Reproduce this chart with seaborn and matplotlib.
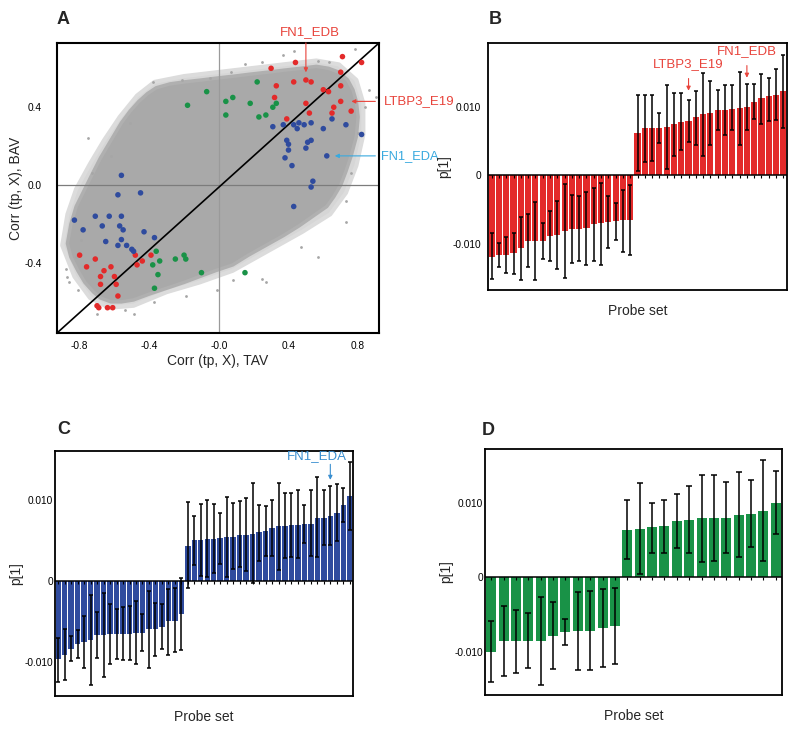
import numpy as np
import pandas as pd
import matplotlib
matplotlib.use("Agg")
import matplotlib.pyplot as plt
import seaborn as sns

# ---- panel A: grey cloud outline, its sparse halo, stray dots
cloud_x = [-0.87, -0.85, -0.82, -0.77, -0.72, -0.68, -0.64, -0.60, -0.56, -0.51, -0.46, -0.41,
           -0.36, -0.28, -0.20, -0.10, -0.01, 0.09, 0.18, 0.28, 0.37, 0.47, 0.56, 0.63, 0.69,
           0.74, 0.77, 0.79, 0.80, 0.79, 0.76, 0.73, 0.70, 0.66, 0.62, 0.54, 0.46, 0.37, 0.27,
           0.17, 0.08, -0.02, -0.11, -0.20, -0.30, -0.40, -0.49, -0.56, -0.62, -0.68, -0.72,
           -0.77, -0.81, -0.85]
cloud_y = [-0.30, -0.20, -0.11, -0.02, 0.07, 0.14, 0.20, 0.26, 0.32, 0.38, 0.43, 0.47,
           0.50, 0.52, 0.53, 0.54, 0.55, 0.56, 0.57, 0.58, 0.59, 0.60, 0.61, 0.60, 0.58,
           0.54, 0.49, 0.43, 0.35, 0.25, 0.15, 0.07, 0.00, -0.06, -0.11, -0.16, -0.21, -0.26, -0.31,
           -0.36, -0.41, -0.44, -0.47, -0.50, -0.53, -0.56, -0.59, -0.60, -0.60, -0.58, -0.55,
           -0.50, -0.44, -0.37]
halo_x = [-0.90, -0.87, -0.82, -0.74, -0.66, -0.57, -0.47, -0.37, -0.20, -0.01, 0.18, 0.37,
          0.56, 0.69, 0.79, 0.83, 0.83, 0.79, 0.73, 0.64, 0.48, 0.28, 0.08, -0.11, -0.30,
          -0.49, -0.63, -0.74, -0.83]
halo_y = [-0.31, -0.15, -0.02, 0.11, 0.23, 0.35, 0.46, 0.53, 0.56, 0.58, 0.60, 0.62,
          0.64, 0.62, 0.54, 0.42, 0.26, 0.10, -0.04, -0.15, -0.24, -0.34, -0.44, -0.50, -0.55,
          -0.62, -0.63, -0.58, -0.47]
stray_x = [-0.88, -0.86, -0.75, -0.38, -0.21, -0.05, 0.07, 0.25, 0.37, 0.43, 0.63, 0.78, 0.86,
           0.84, 0.80, 0.76, 0.73, 0.57, 0.47, 0.27, 0.08, -0.01, -0.19, -0.37, -0.49, -0.54,
           -0.70, -0.81, -0.87, -0.82, -0.79, -0.73, -0.62, -0.51, 0.73, 0.25, 0.57, 0.90, 0.15]
stray_y = [-0.43, -0.50, 0.24, 0.53, 0.54, 0.55, 0.58, 0.63, 0.67, 0.69, 0.63, 0.70, 0.49,
           0.40, 0.27, 0.06, -0.08, -0.37, -0.32, -0.50, -0.49, -0.54, -0.57, -0.60, -0.66, -0.64,
           -0.66, -0.54, -0.47, -0.37, -0.28, 0.06, 0.15, 0.32, -0.19, -0.48, 0.64, 0.45, 0.62]

red_x = [0.71, 0.82, 0.44, 0.30, 0.70, 0.43, 0.50, 0.53, 0.33, 0.70, 0.60, 0.63, 0.32, 0.70,
         0.50, 0.66, 0.52, 0.65, 0.76, 0.39,
         -0.80, -0.71, -0.76, -0.48, -0.44, -0.39, -0.47, -0.62, -0.66, -0.68, -0.60, -0.68,
         -0.59, -0.58, -0.70, -0.69, -0.64, -0.61]
red_y = [0.66, 0.63, 0.63, 0.60, 0.58, 0.53, 0.54, 0.53, 0.51, 0.51, 0.49, 0.48, 0.45, 0.43,
         0.42, 0.40, 0.37, 0.37, 0.38, 0.34,
         -0.36, -0.38, -0.42, -0.36, -0.39, -0.36, -0.41, -0.42, -0.44, -0.47, -0.47, -0.51,
         -0.51, -0.57, -0.62, -0.63, -0.63, -0.63]
blue_x = [0.82, 0.73, 0.65, 0.60, 0.53, 0.49, 0.46, 0.43, 0.45, 0.37, 0.31, 0.53, 0.51, 0.50,
          0.39, 0.40, 0.40, 0.38, 0.42, 0.62, 0.54, 0.53, 0.43,
          -0.56, -0.58, -0.45, -0.83, -0.71, -0.63, -0.56, -0.78, -0.67, -0.57, -0.55, -0.43,
          -0.37, -0.65, -0.56, -0.58, -0.53, -0.50, -0.49]
blue_y = [0.26, 0.31, 0.34, 0.29, 0.32, 0.31, 0.32, 0.31, 0.29, 0.31, 0.30, 0.23, 0.22, 0.19,
          0.23, 0.21, 0.18, 0.14, 0.10, 0.15, 0.02, -0.01, -0.11,
          0.05, -0.05, -0.04, -0.18, -0.16, -0.16, -0.16, -0.23, -0.21, -0.21, -0.23, -0.24,
          -0.27, -0.29, -0.28, -0.31, -0.31, -0.33, -0.34]
green_x = [0.22, -0.07, 0.04, 0.08, 0.18, 0.33, 0.31, -0.18, 0.04, 0.23, 0.27,
           -0.36, -0.38, -0.34, -0.25, -0.20, -0.19, -0.35, -0.10, 0.15, -0.37]
green_y = [0.53, 0.48, 0.43, 0.45, 0.42, 0.42, 0.40, 0.41, 0.36, 0.35, 0.36,
           -0.34, -0.41, -0.39, -0.38, -0.36, -0.38, -0.46, -0.45, -0.45, -0.53]

# ---- panel B (red) bar values and interval ends
b_val = [-0.0119, -0.0117, -0.0117, -0.0114, -0.0106, -0.0096, -0.0096, -0.0096, -0.0089, -0.0087,
         -0.0082, -0.0078, -0.0078, -0.0077, -0.0072, -0.0070, -0.0068, -0.0067, -0.0066, -0.0065,
         0.0062, 0.0069, 0.0070, 0.0070, 0.0071, 0.0075, 0.0078, 0.0080, 0.0085, 0.0090,
         0.0092, 0.0096, 0.0096, 0.0098, 0.0099, 0.0100, 0.0108, 0.0113, 0.0117, 0.0118, 0.0124]
b_hi = [-0.0085, -0.0099, -0.0090, -0.0085, -0.0061, -0.0057, -0.0039, -0.0070, -0.0052, -0.0038,
        -0.0012, -0.0029, -0.0030, -0.0025, -0.0018, -0.0011, -0.0030, -0.0041, -0.0021, -0.0014,
        0.0118, 0.0118, 0.0118, 0.0092, 0.0133, 0.0121, 0.0120, 0.0110, 0.0124, 0.0150,
        0.0138, 0.0125, 0.0132, 0.0133, 0.0152, 0.0134, 0.0134, 0.0149, 0.0142, 0.0156, 0.0176]
b_lo = [-0.0152, -0.0135, -0.0143, -0.0145, -0.0153, -0.0135, -0.0153, -0.0123, -0.0125, -0.0137,
        -0.0151, -0.0128, -0.0126, -0.0131, -0.0125, -0.0132, -0.0106, -0.0094, -0.0112, -0.0117,
        0.0007, 0.0020, 0.0021, 0.0047, 0.0010, 0.0029, 0.0037, 0.0049, 0.0044, 0.0029,
        0.0044, 0.0066, 0.0059, 0.0066, 0.0044, 0.0066, 0.0082, 0.0076, 0.0080, 0.0081, 0.0070]

# ---- panel C (blue)
c_val = [-0.0097, -0.0091, -0.0084, -0.0078, -0.0075, -0.0073, -0.0067, -0.0067, -0.0066, -0.0066,
         -0.0065, -0.0065, -0.0064, -0.0064, -0.0060, -0.0060, -0.0057, -0.0050, -0.0049, -0.0041,
         0.0043, 0.0050, 0.0050, 0.0051, 0.0052, 0.0053, 0.0054, 0.0054, 0.0057, 0.0057,
         0.0058, 0.0060, 0.0062, 0.0065, 0.0067, 0.0067, 0.0069, 0.0069, 0.0070, 0.0070,
         0.0078, 0.0078, 0.0080, 0.0084, 0.0094, 0.0105]
c_hi = [-0.0071, -0.0060, -0.0068, -0.0061, -0.0043, -0.0017, -0.0039, -0.0015, -0.0028, -0.0035,
        -0.0032, -0.0031, -0.0025, -0.0041, -0.0013, -0.0027, -0.0029, -0.0010, -0.0009, 0.0003,
        0.0097, 0.0080, 0.0095, 0.0099, 0.0095, 0.0083, 0.0103, 0.0096, 0.0098, 0.0102,
        0.0120, 0.0094, 0.0092, 0.0100, 0.0121, 0.0108, 0.0108, 0.0112, 0.0094, 0.0112,
        0.0128, 0.0112, 0.0117, 0.0119, 0.0114, 0.0146]
c_lo = [-0.0125, -0.0122, -0.0099, -0.0095, -0.0108, -0.0129, -0.0095, -0.0118, -0.0103, -0.0097,
        -0.0098, -0.0098, -0.0103, -0.0086, -0.0108, -0.0093, -0.0084, -0.0091, -0.0088, -0.0085,
        -0.0009, 0.0020, 0.0006, 0.0005, 0.0010, 0.0021, 0.0005, 0.0014, 0.0017, 0.0012,
        -0.0003, 0.0025, 0.0031, 0.0031, 0.0013, 0.0028, 0.0029, 0.0028, 0.0047, 0.0030,
        0.0029, 0.0044, 0.0044, 0.0049, 0.0073, 0.0063]

# ---- panel D (green)
d_val = [-0.0100, -0.0086, -0.0086, -0.0085, -0.0085, -0.0079, -0.0074, -0.0072, -0.0072, -0.0068,
         -0.0065, 0.0064, 0.0065, 0.0067, 0.0069, 0.0075, 0.0077, 0.0079, 0.0079, 0.0080,
         0.0083, 0.0085, 0.0089, 0.0099]
d_hi = [-0.0059, -0.0039, -0.0044, -0.0048, -0.0026, -0.0033, -0.0056, -0.0020, -0.0019, -0.0016,
        -0.0014, 0.0104, 0.0127, 0.0100, 0.0104, 0.0111, 0.0122, 0.0137, 0.0137, 0.0128,
        0.0141, 0.0130, 0.0157, 0.0142]
d_lo = [-0.0141, -0.0133, -0.0128, -0.0122, -0.0144, -0.0123, -0.0091, -0.0124, -0.0124, -0.0120,
        -0.0116, 0.0025, 0.0004, 0.0033, 0.0033, 0.0039, 0.0032, 0.0021, 0.0022, 0.0033,
        0.0027, 0.0041, 0.0022, 0.0058]

RED = "#e32a2a"
BLUE = "#2f4b9e"
GREEN = "#199247"
TXT_RED = "#e8433b"
TXT_BLUE = "#3a8fd0"
TXT_CYAN = "#38a9df"

sns.set_theme(style="white")
plt.rcParams["font.family"] = ["Liberation Sans", "DejaVu Sans"]

fig = plt.figure(figsize=(7.94, 7.31), dpi=100)
W, H = 794, 731


def px_axes(l, t, r, b):
    return fig.add_axes([l / W, 1 - b / H, (r - l) / W, (b - t) / H])


def frame(ax, lw=1.3):
    for s in ax.spines.values():
        s.set_visible(True)
        s.set_color("black")
        s.set_linewidth(lw)
    ax.tick_params(length=0, labelsize=7.3, colors="black", pad=3)


# ================= panel A =================
axA = px_axes(57, 43, 379, 333)
frame(axA, 1.5)
axA.fill(halo_x, halo_y, color="#d6d6d6", ec="#dcdcdc", lw=3, joinstyle="round", zorder=1)
axA.fill(cloud_x, cloud_y, color="#a9a9a9", ec="#b0b0b0", lw=2.5, joinstyle="round", zorder=1)
sns.scatterplot(x=stray_x, y=stray_y, color="#a6a6a6", s=4, linewidth=0, ax=axA, zorder=1)
axA.axvline(0, color="#9a9a9a", lw=0.9, zorder=2)
axA.axhline(0, color="#7c7c7c", lw=0.9, zorder=2)
axA.plot([0, 1], [0, 1], transform=axA.transAxes, color="black", lw=1.2, zorder=3)
pts = pd.DataFrame({
    "x": red_x + blue_x + green_x,
    "y": red_y + blue_y + green_y,
    "grp": ["red"] * len(red_x) + ["blue"] * len(blue_x) + ["green"] * len(green_x),
})
sns.scatterplot(data=pts, x="x", y="y", hue="grp",
                palette={"red": RED, "blue": BLUE, "green": GREEN},
                s=16, linewidth=0, legend=False, ax=axA, zorder=4)
axA.set_xlim(-0.93, 0.92)
axA.set_ylim(-0.76, 0.73)
axA.set_xticks([-0.8, -0.4, 0.0, 0.4, 0.8])
axA.set_xticklabels(["-0.8", "-0.4", "-0.0", "0.4", "0.8"])
axA.set_yticks([-0.4, 0.0, 0.4])
axA.set_yticklabels(["-0.4", "0.0", "0.4"])
axA.tick_params(axis="x", pad=6)
axA.tick_params(axis="y", pad=11)
axA.set_xlabel("Corr (tp, X), TAV", fontsize=10, labelpad=2)
axA.set_ylabel("Corr (tp, X), BAV", fontsize=10, labelpad=1)

axA.text(0.52, 0.785, "FN1_EDB", color=TXT_RED, fontsize=9.5, ha="center", va="center")
axA.annotate("", xy=(0.50, 0.565), xytext=(0.50, 0.745),
             arrowprops=dict(arrowstyle="-|>", color=TXT_RED, lw=0.8, mutation_scale=6),
             annotation_clip=False)
axA.text(0.95, 0.43, "LTBP3_E19", color=TXT_RED, fontsize=9.5, ha="left", va="center")
axA.annotate("", xy=(0.745, 0.43), xytext=(0.915, 0.43),
             arrowprops=dict(arrowstyle="-|>", color=TXT_RED, lw=0.8, mutation_scale=6),
             annotation_clip=False)
axA.text(0.93, 0.15, "FN1_EDA", color=TXT_CYAN, fontsize=9.3, ha="left", va="center")
axA.annotate("", xy=(0.65, 0.15), xytext=(0.915, 0.15),
             arrowprops=dict(arrowstyle="-|>", color=TXT_CYAN, lw=0.8, mutation_scale=6),
             annotation_clip=False)


# ================= bar panels =================
def bar_panel(ax, vals, lo, hi, color, ylim, width, cap, pad):
    n = len(vals)
    idx = np.arange(n)
    df = pd.DataFrame({"i": idx, "v": vals})
    sns.barplot(data=df, x="i", y="v", color=color, saturation=1, width=width,
                edgecolor="none", ax=ax, zorder=2)
    v = np.array(vals)
    yerr = [v - np.array(lo), np.array(hi) - v]
    ax.errorbar(idx, v, yerr=yerr, fmt="none", ecolor="black", elinewidth=1.1,
                capsize=cap, capthick=1.1, zorder=3)
    ax.axhline(0, color="black", lw=1.1, zorder=4)
    ax.plot(idx, np.zeros(n), ls="none", marker=3, ms=2.2, mew=0.8, color="black", zorder=4)
    ax.set_xlim(-0.5, n - 0.5)
    ax.set_ylim(*ylim)
    ax.set_xticks([])
    ax.set_yticks([-0.010, 0, 0.010])
    ax.set_yticklabels(["-0.010", "0", "0.010"])
    ax.set_xlabel("Probe set", fontsize=10, labelpad=10)
    ax.set_ylabel("p[1]", fontsize=10, labelpad=1)
    frame(ax, 1.3)
    ax.tick_params(axis="y", pad=pad)


axB = px_axes(488, 43, 787, 290)
bar_panel(axB, b_val, b_lo, b_hi, RED, (-0.0168, 0.0194), 0.84, 1.7, 5)
axB.text(27, 0.0163, "LTBP3_E19", color=TXT_RED, fontsize=9.5, ha="center", va="center")
axB.annotate("", xy=(27, 0.0120), xytext=(27, 0.0146),
             arrowprops=dict(arrowstyle="-|>", color=TXT_RED, lw=0.8, mutation_scale=6))
axB.text(35, 0.0182, "FN1_EDB", color=TXT_RED, fontsize=9.5, ha="center", va="center")
axB.annotate("", xy=(35, 0.0139), xytext=(35, 0.0165),
             arrowprops=dict(arrowstyle="-|>", color=TXT_RED, lw=0.8, mutation_scale=6))

axC = px_axes(55, 451, 353, 696)
bar_panel(axC, c_val, c_lo, c_hi, BLUE, (-0.0142, 0.0160), 0.84, 1.6, 1.5)
axC.text(40, 0.01535, "FN1_EDA", color=TXT_BLUE, fontsize=9.5, ha="center", va="center")
axC.annotate("", xy=(42, 0.0121), xytext=(42, 0.0147),
             arrowprops=dict(arrowstyle="-|>", color=TXT_BLUE, lw=0.8, mutation_scale=6))

axD = px_axes(485, 449, 782, 695)
bar_panel(axD, d_val, d_lo, d_hi, GREEN, (-0.0158, 0.0172), 0.8, 2.3, 1.5)

# panel letters
for lab, x, y in [("A", 57, 19), ("B", 489, 19), ("C", 57, 430), ("D", 482, 431)]:
    fig.text(x / W, 1 - y / H, lab, fontsize=13, fontweight="bold", ha="left", va="center")

fig.savefig("out.png", dpi=100)
